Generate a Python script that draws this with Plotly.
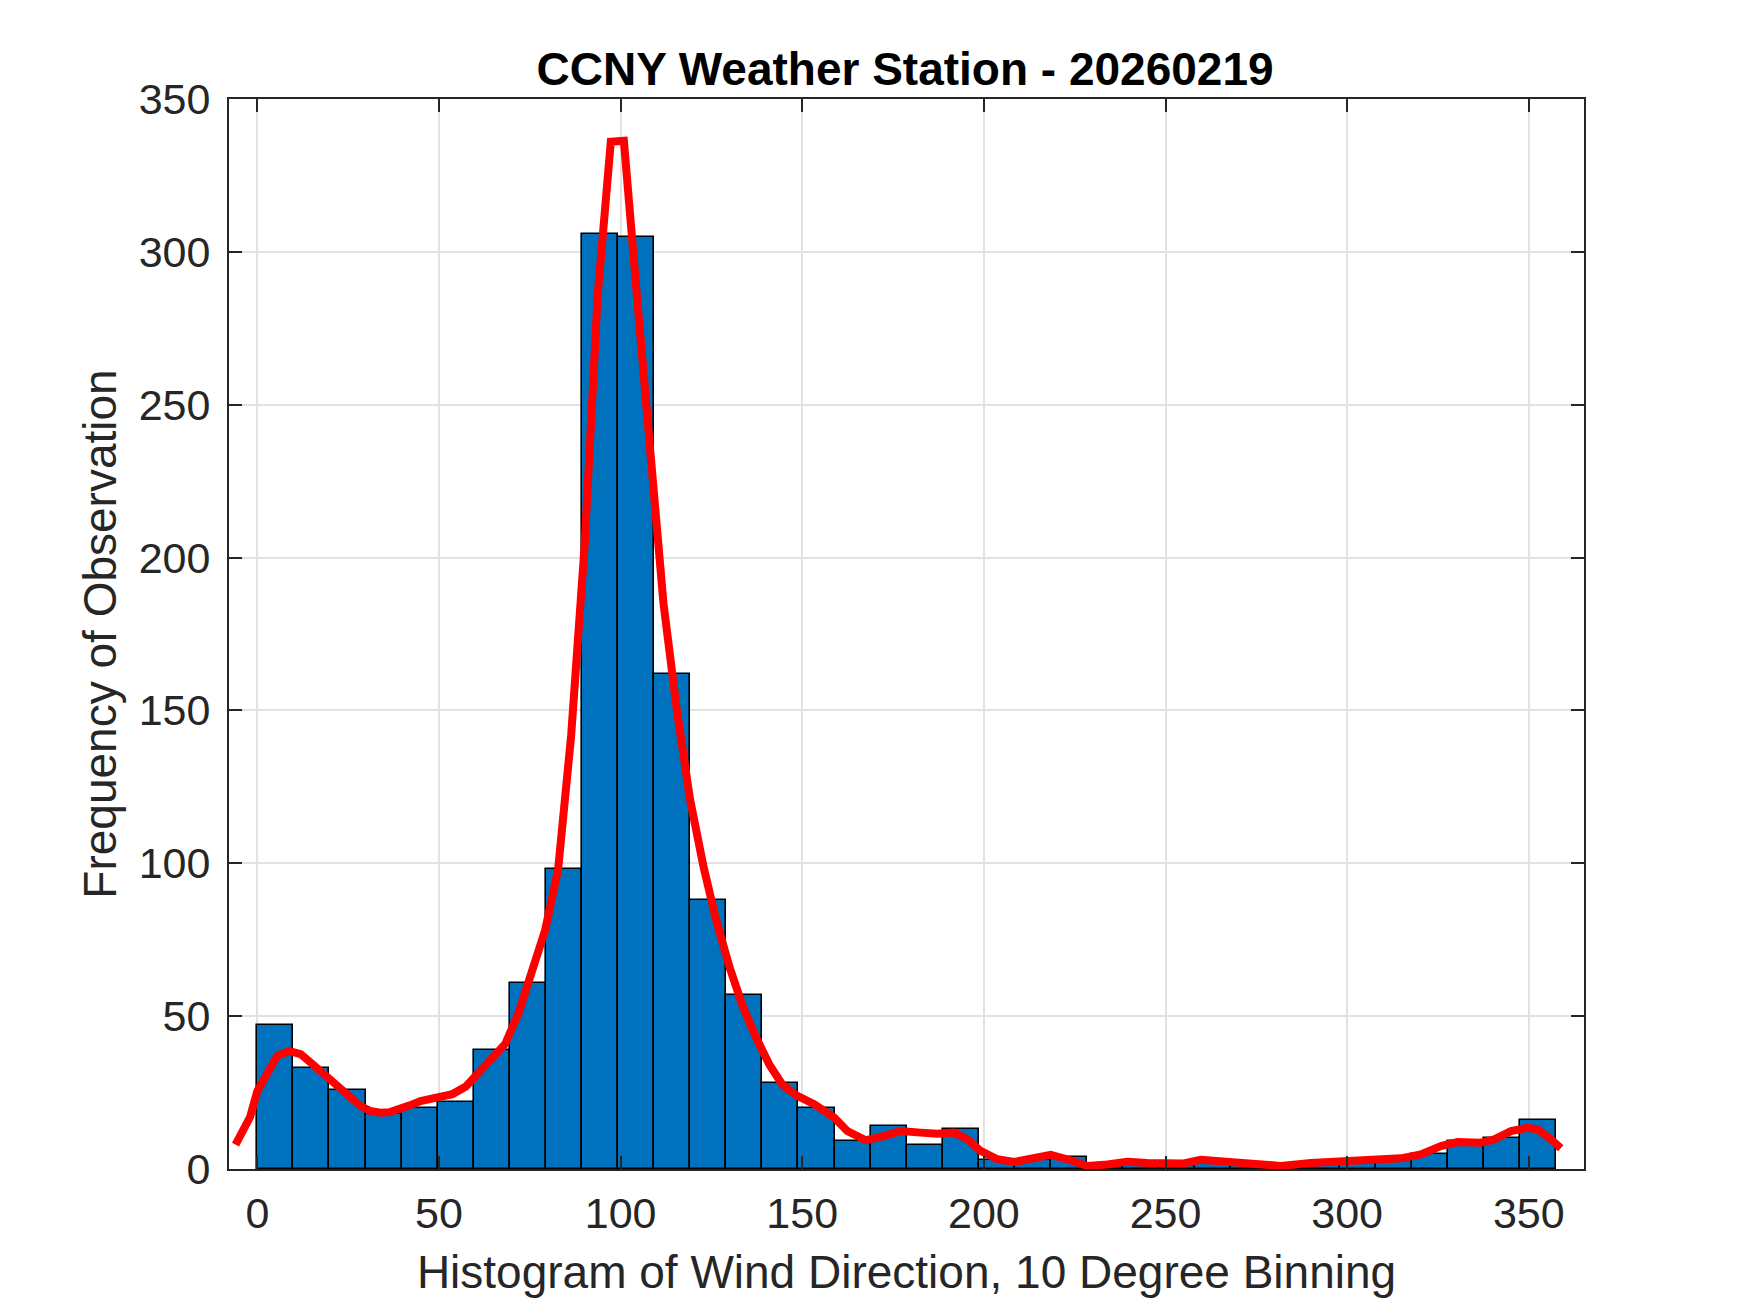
import numpy as np
import plotly.graph_objects as go

# histogram of wind direction, ~10 degree bins starting at 0
bin_start = 0.0
bin_width = 9.93
counts = [47, 33, 26, 18, 20, 22, 39, 61, 98, 306, 305, 162, 88, 57, 28, 20,
          9, 14, 8, 13, 3, 3, 4, 1, 2, 1, 3, 1, 1, 2, 3, 3, 5, 9, 10, 16]

# density estimate scaled to counts (red line)
curve_x = [-6, -2, 0, 3, 5.5, 8.7, 11.9, 14.5, 17.4, 20, 22.9, 25.5, 28.4, 31,
           33.9, 36.5, 39.5, 42, 44.9, 48.5, 52.3, 53.7, 57.4, 61, 64.6, 68.3,
           71.9, 75.5, 79.2, 82.8, 86.4, 90.1, 93.7, 97.3, 100.9, 104.6, 108.2,
           111.8, 115.5, 119.1, 122.8, 126.4, 130, 133.7, 137.3, 141, 144.6,
           148.5, 153.3, 158.8, 162.4, 167.5, 171.6, 177.1, 182.6, 187.2, 191.8,
           195.5, 199.1, 203.7, 208.3, 213.8, 218.4, 222.9, 228.5, 234, 239.5,
           245, 250.5, 255, 259.7, 264, 268, 274, 281.8, 290, 295.5, 303.8,
           310.2, 314.8, 320.3, 325.8, 330.4, 336.8, 340.5, 345.1, 349.7, 352.4,
           356.1, 358.8]
curve_y = [8, 17, 25.5, 31.5, 37, 38.6, 37.6, 35, 32, 29.5, 26.6, 23.5, 20.6, 19,
           18.4, 18.6, 19.5, 20.8, 22.2, 23, 23.9, 24.5, 27, 31.5, 35.5, 41,
           51, 65, 78, 98, 142, 204, 286, 336, 336.3, 284, 238,
           185, 150, 121, 99, 81, 66, 53, 43, 34, 27.5,
           24, 21.2, 16.8, 12.4, 9.4, 10.5, 12.4, 11.9, 11.5, 11.9,
           9.7, 5.9, 3.2, 2.3, 3.5, 4.6, 3.2, 1.0, 1.5, 2.4,
           2.0, 1.7, 1.8, 3.0, 2.6, 1.8, 1.3, 1.0, 2.0, 2.4, 3.3,
           3.6, 3.5, 4.8, 7.5, 8.8, 8.6, 9.7, 12.4, 13.5, 13,
           9.7, 6.8]

x_ticks = [0, 50, 100, 150, 200, 250, 300, 350]
y_ticks = [0, 50, 100, 150, 200, 250, 300, 350]

centers = bin_start + bin_width * (np.arange(len(counts)) + 0.5)

font = "Liberation Sans, Arial, Helvetica, sans-serif"
axis_col = "#262626"
grid_col = "#e2e2e2"

fig = go.Figure()
fig.add_trace(go.Bar(
    x=centers, y=counts, width=bin_width,
    marker=dict(color="#0072BD", line=dict(color="#000000", width=1.6)),
    showlegend=False,
))
fig.add_trace(go.Scatter(
    x=curve_x, y=curve_y, mode="lines",
    line=dict(color="#FF0000", width=8),
    showlegend=False,
))

fig.update_layout(
    width=1750, height=1313,
    margin=dict(l=221, r=174, t=91, b=152),
    paper_bgcolor="white", plot_bgcolor="white",
    bargap=0,
    title=dict(text="<b>CCNY Weather Station - 20260219</b>",
               x=0.5126, xanchor="center", xref="container",
               y=1 - 61 / 1313, yanchor="middle", yref="container",
               font=dict(family=font, size=46, color="#000000")),
)
fig.update_xaxes(
    range=[-7.8, 365.2], tickvals=x_ticks,
    ticks="inside", ticklen=13, tickwidth=2, tickcolor=axis_col,
    showline=True, linecolor=axis_col, linewidth=2, mirror="ticks",
    showgrid=True, gridcolor=grid_col, gridwidth=2, zeroline=False,
    tickfont=dict(family=font, size=43, color=axis_col),
    ticklabelstandoff=5,
    title=dict(text="Histogram of Wind Direction, 10 Degree Binning",
               font=dict(family=font, size=46, color=axis_col), standoff=20),
)
fig.update_yaxes(
    range=[0, 350], tickvals=y_ticks,
    ticks="inside", ticklen=13, tickwidth=2, tickcolor=axis_col,
    showline=True, linecolor=axis_col, linewidth=2, mirror="ticks",
    showgrid=True, gridcolor=grid_col, gridwidth=2, zeroline=False,
    tickfont=dict(family=font, size=43, color=axis_col),
    ticklabelstandoff=8,
    title=dict(text="Frequency of Observation",
               font=dict(family=font, size=46, color=axis_col), standoff=8),
)

fig.write_html("out.html")
